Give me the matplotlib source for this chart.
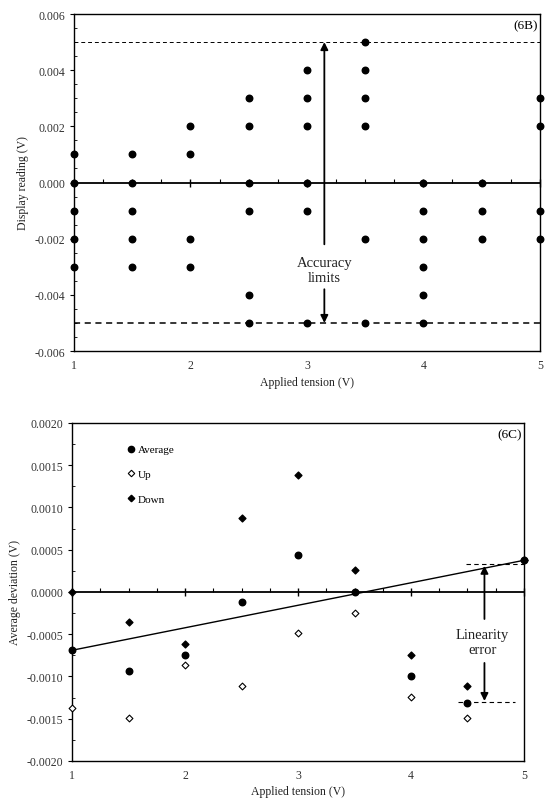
import numpy as np
import matplotlib
matplotlib.use("Agg")
import matplotlib.pyplot as plt
from matplotlib.ticker import MultipleLocator, FormatStrFormatter
from matplotlib.lines import Line2D

plt.rcParams['font.family'] = ['Liberation Serif', 'DejaVu Serif']
plt.rcParams['axes.unicode_minus'] = False

# --- data, panel 6B: display readings at each applied tension
tension_6b = [1, 1.5, 2, 2.5, 3, 3.5, 4, 4.5, 5]
readings_6b = [
    [0.001, 0, -0.001, -0.002, -0.003],
    [0.001, 0, -0.001, -0.002, -0.003],
    [0.002, 0.001, -0.002, -0.003],
    [0.003, 0.002, 0, -0.001, -0.004, -0.005],
    [0.004, 0.003, 0.002, 0, -0.001, -0.005],
    [0.005, 0.004, 0.003, 0.002, -0.002, -0.005],
    [0, -0.001, -0.002, -0.003, -0.004, -0.005],
    [0, -0.001, -0.002],
    [0.003, 0.002, -0.001, -0.002],
]
accuracy_limit = 0.005

# --- data, panel 6C: average deviations
tension_6c = [1, 1.5, 2, 2.5, 3, 3.5, 4, 4.5, 5]
avg_dev = [-0.00069, -0.00093, -0.00075, -0.00012, 0.00044, 0.0, -0.00100, -0.00131, 0.000375]
up_dev = [-0.00137, -0.00149, -0.00087, -0.00111, -0.00049, -0.00025, -0.00124, -0.00149, 0.000375]
down_dev = [0.0, -0.00036, -0.00062, 0.00088, 0.00138, 0.00026, -0.00075, -0.00111, 0.000375]

fig = plt.figure(figsize=(5.48, 8.03), dpi=100)
ax1 = fig.add_axes([0.135, 0.5616, 0.850, 0.4197])
ax2 = fig.add_axes([0.1314, 0.0511, 0.8248, 0.4209])

tick_col = '#333333'


def style_axes(ax, ymajor, yminor, fmt):
    ax.set_xlim(1, 5)
    ax.spines['bottom'].set_position(('data', 0))
    ax.spines['bottom'].set_linewidth(1.3)
    for s in ['left', 'right', 'top']:
        ax.spines[s].set_linewidth(1.0)
    ax.xaxis.set_major_locator(MultipleLocator(1))
    ax.xaxis.set_minor_locator(MultipleLocator(0.25))
    ax.tick_params(axis='x', which='major', direction='inout', length=6, width=1, labelbottom=False)
    ax.tick_params(axis='x', which='minor', direction='in', length=3, width=0.8)
    ax.yaxis.set_major_locator(MultipleLocator(ymajor))
    ax.yaxis.set_minor_locator(MultipleLocator(yminor))
    ax.yaxis.set_major_formatter(FormatStrFormatter(fmt))
    ax.tick_params(axis='y', which='major', direction='out', length=3, labelsize=8.5, labelcolor=tick_col)
    ax.tick_params(axis='y', which='minor', direction='in', length=2)
    sec = ax.secondary_xaxis('bottom')
    sec.set_xticks([1, 2, 3, 4, 5])
    sec.tick_params(length=0, labelsize=8.5, labelcolor=tick_col, pad=6)
    sec.spines['bottom'].set_linewidth(1.0)
    sec.set_xlabel('Applied tension (V)', fontsize=8.5, color='#222222', labelpad=3)
    return sec


# ---------- panel 6B
style_axes(ax1, 0.002, 0.0005, '%.3f')
ax1.set_ylim(-0.006, 0.006)
for xv, vals in zip(tension_6b, readings_6b):
    ax1.scatter([xv] * len(vals), vals, s=22, color='k', zorder=3, clip_on=False)
ax1.axhline(accuracy_limit, color='k', lw=0.7, ls=(0, (4, 3)))
ax1.axhline(-accuracy_limit, color='k', lw=1.1, ls=(0, (4, 3)))
ax1.set_ylabel('Display reading (V)', fontsize=8.5, color='#222222', labelpad=4)
ax1.text(0.995, 0.985, '(6B)', transform=ax1.transAxes, ha='right', va='top', fontsize=9.5)
ax1.annotate('', xy=(3.15, accuracy_limit), xytext=(3.15, -0.0022),
             arrowprops=dict(arrowstyle='-|>', color='k', lw=1.3, mutation_scale=11, shrinkA=0, shrinkB=0))
ax1.annotate('', xy=(3.15, -accuracy_limit), xytext=(3.15, -0.0038),
             arrowprops=dict(arrowstyle='-|>', color='k', lw=1.3, mutation_scale=11, shrinkA=0, shrinkB=0))
ax1.text(3.15, -0.0031, 'Accuracy\nlimits', ha='center', va='center', fontsize=10.5,
         linespacing=1.2, color='#222222')

# ---------- panel 6C
style_axes(ax2, 0.0005, 0.00025, '%.4f')
ax2.set_ylim(-0.002, 0.002)
ax2.plot([tension_6c[0], tension_6c[-1]], [avg_dev[0], avg_dev[-1]], color='k', lw=1.0, zorder=2)
ax2.scatter(tension_6c, down_dev, marker='D', s=12, color='k', zorder=3, clip_on=False)
ax2.scatter(tension_6c, up_dev, marker='D', s=12, facecolor='white', edgecolor='k', linewidth=0.8,
            zorder=3, clip_on=False)
ax2.scatter(tension_6c, avg_dev, marker='o', s=22, color='k', zorder=4, clip_on=False)
ax2.set_ylabel('Average deviation (V)', fontsize=8.5, color='#222222', labelpad=4)
ax2.text(0.995, 0.985, '(6C)', transform=ax2.transAxes, ha='right', va='top', fontsize=9.5)

# linearity error markers
ax2.plot([4.49, 5.0], [0.00033, 0.00033], color='k', lw=0.8, ls=(0, (4, 3)))
ax2.plot([4.42, 4.92], [-0.0013, -0.0013], color='k', lw=0.8, ls=(0, (4, 3)))
ax2.annotate('', xy=(4.65, 0.00031), xytext=(4.65, -0.00032),
             arrowprops=dict(arrowstyle='-|>', color='k', lw=1.3, mutation_scale=11, shrinkA=0, shrinkB=0))
ax2.annotate('', xy=(4.65, -0.00129), xytext=(4.65, -0.00084),
             arrowprops=dict(arrowstyle='-|>', color='k', lw=1.3, mutation_scale=11, shrinkA=0, shrinkB=0))
ax2.text(4.63, -0.00059, 'Linearity\nerror', ha='center', va='center', fontsize=10.5,
         linespacing=1.2, color='#222222')

handles = [
    Line2D([], [], ls='none', marker='o', ms=4.5, color='k'),
    Line2D([], [], ls='none', marker='D', ms=3.3, mfc='white', mec='k', mew=0.8),
    Line2D([], [], ls='none', marker='D', ms=3.3, color='k'),
]
ax2.legend(handles, ['Average', 'Up', 'Down'], loc='upper left', bbox_to_anchor=(0.123, 0.936),
           frameon=False, fontsize=8, labelspacing=1.35, handlelength=0.6, handletextpad=0.3,
           borderpad=0, borderaxespad=0)

fig.savefig('out.png', dpi=100)
